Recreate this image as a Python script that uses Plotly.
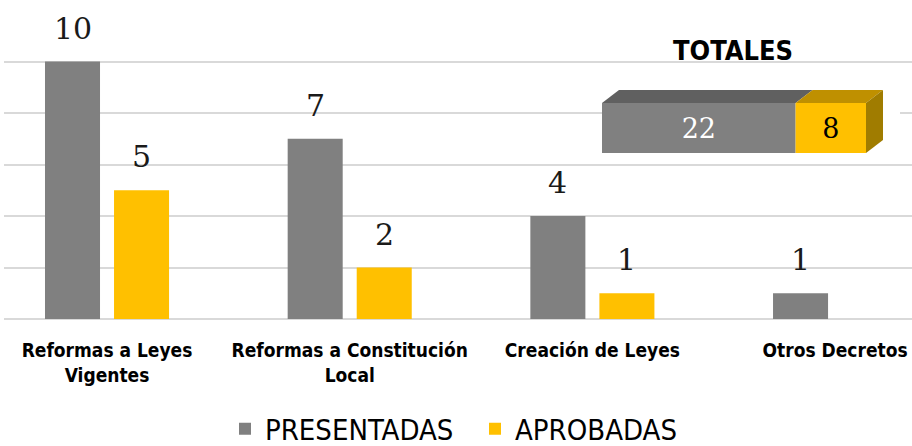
import plotly.graph_objects as go

categories = ["Reformas a Leyes<br>Vigentes", "Reformas a Constitución<br>Local", "Creación de Leyes", "Otros Decretos"]
presentadas = [10, 7, 4, 1]
aprobadas = [5, 2, 1, 0]
total_presentadas = sum(presentadas)
total_aprobadas = sum(aprobadas)

GRAY = "#808080"
GOLD = "#FFC000"
LABEL_FONT = "DejaVu Sans Condensed, Liberation Sans Narrow, sans-serif"
NUM_FONT = "DejaVu Serif, serif"

W, H = 912, 446
ML, MR, MT, MB = 4, 0, 10, 127
PW, PH = W - ML - MR, H - MT - MB

def px_x(p):
    return (p - ML) / PW

def px_y(p):
    return (H - MB - p) / PH

fig = go.Figure()
fig.add_trace(go.Bar(x=list(range(len(categories))), y=presentadas, name="PRESENTADAS",
                     marker=dict(color=GRAY, line=dict(width=0))))
fig.add_trace(go.Bar(x=list(range(len(categories))), y=aprobadas, name="APROBADAS",
                     marker=dict(color=GOLD, line=dict(width=0))))

# value labels
for i, (p, a) in enumerate(zip(presentadas, aprobadas)):
    for off, v in ((-0.142, p), (0.142, a)):
        if v > 0:
            fig.add_annotation(x=i + off, y=v, xref="x", yref="y", text=str(v), showarrow=False,
                               yanchor="bottom", yshift=14,
                               font=dict(family=NUM_FONT, size=30, color="#1a1a1a"))

# inset totals (stacked horizontal 3D-like bar)
px_per_unit = 8.8
x2_left_px = 602
x2_right_px = 900
x2_range = [0, (x2_right_px - x2_left_px) / px_per_unit]
y2_bottom_px, y2_top_px = 160, 80
y2_units_per_px = 1 / 50.0
y2_r0 = -(y2_bottom_px - 128) * y2_units_per_px
y2_range = [y2_r0, y2_r0 + (y2_bottom_px - y2_top_px) * y2_units_per_px]
dx = 17 / px_per_unit
dy = 13 * y2_units_per_px

fig.add_trace(go.Bar(x=[total_presentadas], y=[0], orientation="h", xaxis="x2", yaxis="y2",
                     width=1, offsetgroup="tot", marker=dict(color=GRAY, line=dict(width=0)),
                     text=[str(total_presentadas)], textposition="inside", insidetextanchor="middle",
                     textfont=dict(family=NUM_FONT, size=27, color="white"), showlegend=False,
                     hoverinfo="skip"))
fig.add_trace(go.Bar(x=[total_aprobadas], y=[0], base=[total_presentadas], orientation="h",
                     xaxis="x2", yaxis="y2", width=1, offsetgroup="tot",
                     marker=dict(color=GOLD, line=dict(width=0)),
                     text=[str(total_aprobadas)], textposition="inside", insidetextanchor="middle",
                     textfont=dict(family=NUM_FONT, size=27, color="black"), showlegend=False,
                     hoverinfo="skip"))

def poly(pts):
    return "M " + " L ".join(f"{x},{y}" for x, y in pts) + " Z"

t = total_presentadas + total_aprobadas
shapes = [
    dict(type="path", xref="x2", yref="y2", line=dict(width=0), fillcolor="#606060",
         path=poly([(0, 0.5), (total_presentadas, 0.5), (total_presentadas + dx, 0.5 + dy), (dx, 0.5 + dy)])),
    dict(type="path", xref="x2", yref="y2", line=dict(width=0), fillcolor="#BF9000",
         path=poly([(total_presentadas, 0.5), (t, 0.5), (t + dx, 0.5 + dy), (total_presentadas + dx, 0.5 + dy)])),
    dict(type="path", xref="x2", yref="y2", line=dict(width=0), fillcolor="#A07C00",
         path=poly([(t, -0.5), (t, 0.5), (t + dx, 0.5 + dy), (t + dx, -0.5 + dy)])),
]

fig.add_annotation(x=px_x(733), y=px_y(50), xref="paper", yref="paper", text="<b>TOTALES</b>",
                   showarrow=False, xanchor="center", yanchor="middle",
                   font=dict(family=LABEL_FONT, size=27, color="black"))

x_left = -0.441 + (ML / 242.7)
fig.update_layout(
    width=W, height=H,
    margin=dict(l=ML, r=MR, t=MT, b=MB, autoexpand=False),
    paper_bgcolor="white", plot_bgcolor="white",
    barmode="group", bargap=0.431, bargroupgap=0.203,
    shapes=shapes,
    showlegend=True,
    legend=dict(orientation="h", x=px_x(475), xanchor="center", y=px_y(429), yanchor="middle",
                font=dict(family=LABEL_FONT, size=29, color="black"),
                itemwidth=30, traceorder="normal", entrywidth=205, entrywidthmode="pixels"),
    xaxis=dict(tickmode="array", tickvals=list(range(len(categories))),
               ticktext=[f"<b>{c.replace('<br>', '</b><br><b>')}</b>" for c in categories],
               range=[x_left, 3.317], showgrid=False, zeroline=False, showline=False,
               ticks="", ticklabelstandoff=18, automargin=False,
               tickfont=dict(family=LABEL_FONT, size=19, color="black")),
    yaxis=dict(range=[0, 12], dtick=2, showgrid=True, gridcolor="#d9d9d9", gridwidth=1.5,
               zeroline=True, zerolinecolor="#d9d9d9", zerolinewidth=1.5,
               showticklabels=False, ticks="", automargin=False),
    xaxis2=dict(domain=[px_x(x2_left_px), px_x(x2_right_px)], range=x2_range, anchor="y2",
                visible=False, fixedrange=True),
    yaxis2=dict(domain=[px_y(y2_bottom_px), px_y(y2_top_px)], range=y2_range, anchor="x2",
                visible=False, fixedrange=True),
)

fig.write_html("out.html", config={"displayModeBar": False},
               post_script="document.body.style.margin='0';document.body.style.overflow='hidden';")
